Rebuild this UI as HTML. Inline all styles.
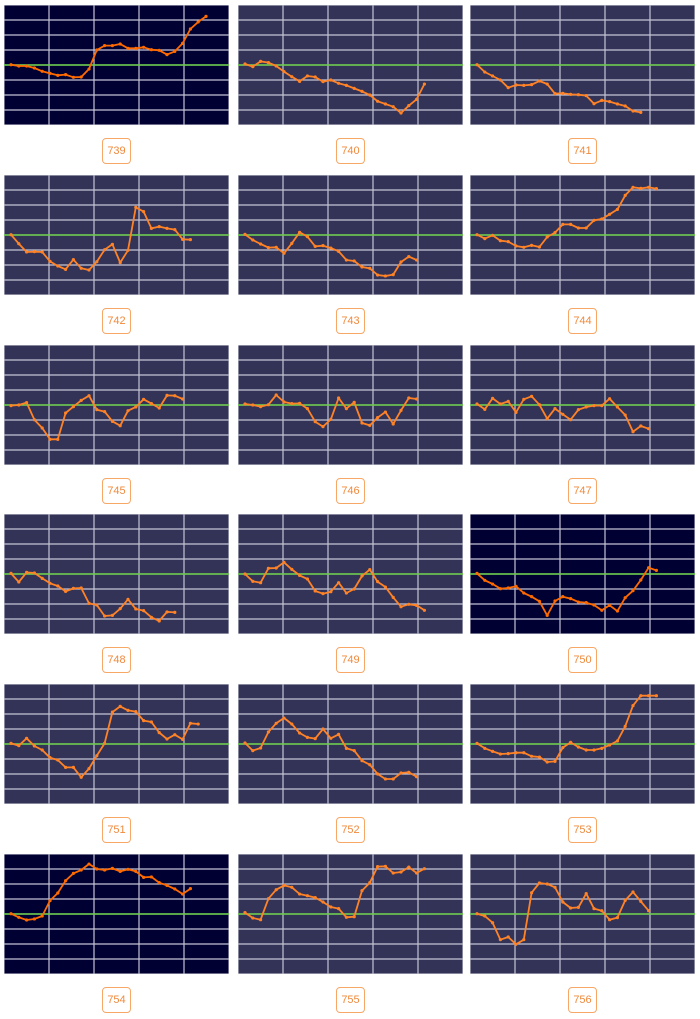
<!DOCTYPE html>
<html><head><meta charset="utf-8">
<style>
body{margin:0;background:#fff;width:700px;height:1019px;position:relative;overflow:hidden;font-family:"Liberation Sans",sans-serif}
.cell{position:absolute;width:225px;height:165px}
.panel{position:absolute;left:0;top:0}
.lbl{position:absolute;left:98px;top:133px;width:27px;height:24px;border:1px solid #f7a766;border-radius:4px;color:#f08a3c;font-size:11px;line-height:24px;text-align:center;background:#fff}
</style></head>
<body>
<div id="root"></div>
<script>
const chartIds = [739,740,741,742,743,744,745,746,747,748,749,750,751,752,753,754,755,756];
const darkCharts = [739,750,754];
const v739=[0.02,-0.07,-0.07,-0.2,-0.42,-0.56,-0.69,-0.64,-0.82,-0.8,-0.27,1.0,1.29,1.29,1.4,1.11,1.11,1.18,1.02,0.98,0.69,0.91,1.44,2.4,2.87,3.24];
const v740=[0.07,-0.11,0.24,0.16,-0.07,-0.44,-0.78,-1.09,-0.73,-0.8,-1.11,-1.0,-1.22,-1.36,-1.56,-1.76,-2.0,-2.42,-2.6,-2.78,-3.2,-2.71,-2.29,-1.27];
const v741=[0.02,-0.47,-0.73,-1.0,-1.51,-1.33,-1.36,-1.31,-1.07,-1.27,-1.91,-1.89,-1.96,-1.98,-2.04,-2.58,-2.36,-2.44,-2.6,-2.73,-3.07,-3.16];
const v742=[0.02,-0.58,-1.13,-1.11,-1.13,-1.76,-2.07,-2.29,-1.64,-2.22,-2.33,-1.78,-0.98,-0.62,-1.84,-1.02,1.84,1.56,0.44,0.56,0.44,0.36,-0.29,-0.31];
const v743=[0.04,-0.33,-0.6,-0.84,-0.82,-1.22,-0.56,0.18,-0.11,-0.76,-0.71,-0.87,-1.09,-1.67,-1.73,-2.13,-2.22,-2.67,-2.73,-2.64,-1.8,-1.44,-1.67];
const v744=[0.02,-0.24,-0.02,-0.38,-0.44,-0.73,-0.82,-0.69,-0.8,-0.13,0.16,0.71,0.71,0.47,0.47,0.98,1.07,1.38,1.71,2.64,3.18,3.11,3.18,3.09];
const v745=[-0.04,0,0.16,-0.98,-1.53,-2.29,-2.29,-0.53,-0.11,0.31,0.62,-0.31,-0.44,-1.09,-1.38,-0.38,-0.13,0.38,0.09,-0.2,0.64,0.62,0.4];
const v746=[0.07,0,-0.11,0.02,0.67,0.2,0.09,0.11,-0.24,-1.11,-1.44,-0.96,0.47,-0.24,0.18,-1.2,-1.36,-0.84,-0.47,-1.27,-0.36,0.47,0.4];
const v747=[0.07,-0.29,0.44,0.07,0.24,-0.49,0.38,0.58,0.02,-0.91,-0.24,-0.62,-0.98,-0.31,-0.13,-0.04,-0.04,0.42,-0.13,-0.67,-1.78,-1.4,-1.58];
const v748=[0.04,-0.53,0.11,0.07,-0.29,-0.62,-0.8,-1.16,-0.96,-0.93,-1.96,-2.07,-2.8,-2.76,-2.31,-1.69,-2.33,-2.44,-2.89,-3.13,-2.53,-2.56];
const v749=[0,-0.49,-0.58,0.38,0.4,0.78,0.31,-0.09,-0.33,-1.13,-1.31,-1.18,-0.58,-1.27,-1.0,-0.13,0.29,-0.51,-0.87,-1.56,-2.18,-2.02,-2.09,-2.42];
const v750=[0.04,-0.42,-0.67,-0.98,-0.93,-0.82,-1.27,-1.51,-1.82,-2.76,-1.8,-1.51,-1.64,-1.87,-1.91,-2.07,-2.42,-2.09,-2.47,-1.58,-1.11,-0.4,0.42,0.24];
const v751=[0.04,-0.11,0.38,-0.13,-0.4,-0.91,-1.07,-1.56,-1.56,-2.22,-1.64,-0.78,0.04,2.13,2.51,2.24,2.16,1.56,1.47,0.76,0.33,0.62,0.31,1.38,1.33];
const v752=[0.07,-0.44,-0.27,0.8,1.38,1.73,1.33,0.73,0.44,0.36,1.0,0.38,0.64,-0.29,-0.44,-1.11,-1.38,-2.0,-2.33,-2.33,-1.93,-1.89,-2.18];
const v753=[0.04,-0.29,-0.49,-0.67,-0.64,-0.58,-0.58,-0.82,-0.87,-1.2,-1.16,-0.24,0.11,-0.2,-0.4,-0.4,-0.29,-0.07,0.2,1.18,2.56,3.22,3.22,3.22];
const v754=[0.02,-0.22,-0.4,-0.33,-0.13,0.89,1.4,2.22,2.71,2.93,3.33,3.0,2.93,3.04,2.84,2.98,2.84,2.44,2.47,2.09,1.91,1.67,1.33,1.69];
const v755=[0.09,-0.27,-0.38,1.02,1.62,1.91,1.78,1.33,1.22,1.09,0.8,0.47,0.36,-0.22,-0.18,1.56,2.09,3.16,3.18,2.73,2.8,3.13,2.73,3.02];
const v756=[0.02,-0.13,-0.58,-1.71,-1.53,-2.02,-1.71,1.42,2.07,2.0,1.78,0.8,0.4,0.44,1.36,0.36,0.22,-0.38,-0.24,0.91,1.47,0.84,0.22];
const allSeries=[v739,v740,v741,v742,v743,v744,v745,v746,v747,v748,v749,v750,v751,v752,v753,v754,v755,v756];

const NS='http://www.w3.org/2000/svg';
const W=225,H=120,colX=[4,238,470],rowY=[5,175,345,514,684,854];
function xScale(i){return 7+i*7.8;}
function yScale(v){return H/2-v*15;}
function mk(tag,attrs,parent){const e=document.createElementNS(NS,tag);for(const k in attrs)e.setAttribute(k,attrs[k]);parent.appendChild(e);return e;}
const root=document.getElementById('root');
chartIds.forEach((id,n)=>{
  const vals=allSeries[n];
  const cell=document.createElement('div');
  cell.className='cell';
  cell.style.left=colX[n%3]+'px';cell.style.top=rowY[Math.floor(n/3)]+'px';
  
  
  root.appendChild(cell);
  const svg=document.createElementNS(NS,'svg');
  svg.setAttribute('width',W);svg.setAttribute('height',H);svg.setAttribute('class','panel');
  
  
  cell.appendChild(svg);
  const dark=darkCharts.includes(id);
  mk('rect',{x:0,y:0,width:W,height:H,fill:dark?'#000033':'#333358',stroke:'#d8d8e0','stroke-width':1},svg);
  for(let k=1;k<8;k++){const l=mk('line',{x1:0,x2:W,y1:k*15,y2:k*15,stroke:'#c4c4d4','stroke-width':1.2},svg);}
  for(let k=1;k<5;k++){const l=mk('line',{x1:k*45,x2:k*45,y1:0,y2:H,stroke:'#c4c4d4','stroke-width':1.2},svg);}
  const g=mk('line',{x1:0,x2:W,y1:yScale(0),y2:yScale(0),stroke:'#66cc44','stroke-width':1.4},svg);
  
  
  const col=dark?'#ff6a00':'#ff8326';
  const pts=vals.map((v,i)=>xScale(i).toFixed(1)+','+yScale(v).toFixed(1)).join(' ');
  const pl=mk('polyline',{points:pts,fill:'none',stroke:col,'stroke-width':1.8,'stroke-linejoin':'round'},svg);
  
  
  vals.forEach((v,i)=>{const c=mk('circle',{cx:xScale(i),cy:yScale(v),r:1.6,fill:col},svg);});
  const lb=document.createElement('div');
  lb.className='lbl';lb.textContent=id;
  
  
  cell.appendChild(lb);
});
</script>
</body></html>
